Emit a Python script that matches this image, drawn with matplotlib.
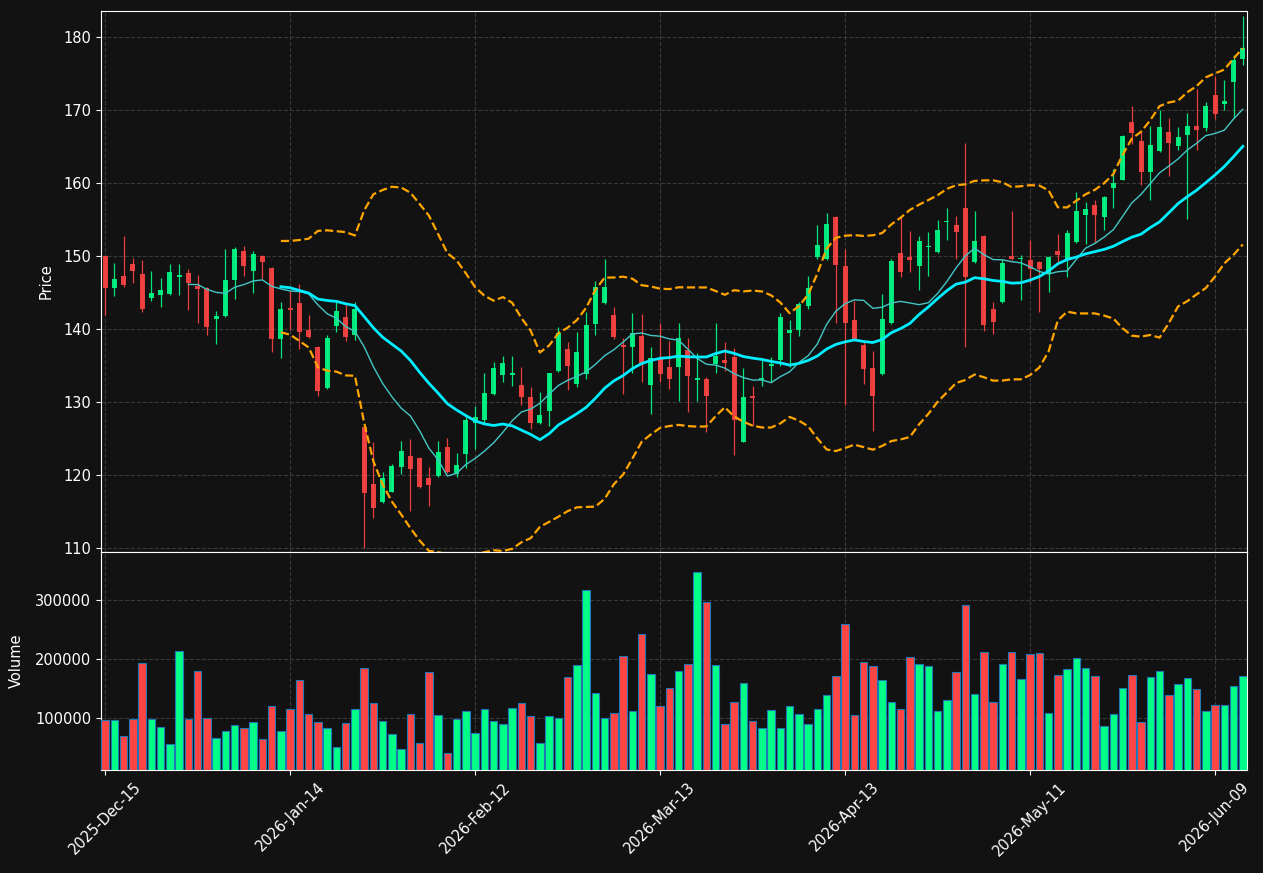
import numpy as np
import pandas as pd
import matplotlib
matplotlib.use("Agg")
import matplotlib.pyplot as plt
from matplotlib.ticker import MultipleLocator, FuncFormatter

# --- data ---
holidays = ["2025-12-25", "2026-01-01", "2026-01-19", "2026-02-16",
            "2026-04-03", "2026-05-25"]
dates = pd.bdate_range("2025-12-15", periods=124, freq="C", holidays=holidays)

opens = [149.95, 145.52, 147.29, 148.90, 147.52, 144.19, 144.67, 144.81, 147.05, 147.67,
         145.90, 145.62, 141.29, 141.71, 146.71, 150.71, 147.86, 149.95, 148.38, 138.57,
         142.90, 143.57, 139.86, 137.52, 131.86, 140.33, 141.67, 139.10, 126.57, 118.76,
         116.29, 117.71, 121.14, 122.62, 122.33, 119.62, 119.81, 123.81, 120.19, 122.86,
         127.10, 127.52, 131.10, 133.62, 133.71, 132.33, 130.71, 127.14, 128.81, 134.19,
         137.29, 132.48, 133.86, 140.71, 143.48, 141.90, 137.81, 137.57, 139.05, 132.24,
         135.86, 134.81, 134.76, 137.14, 132.95, 133.14, 135.24, 135.71, 136.19, 124.57,
         130.76, 132.95, 134.86, 135.76, 139.38, 139.81, 143.10, 149.86, 149.62, 155.24,
         148.57, 141.24, 137.81, 134.67, 133.76, 140.76, 150.38, 149.81, 148.57, 151.14,
         150.48, 154.57, 154.14, 156.57, 149.10, 152.76, 142.76, 143.62, 150.00, 149.52,
         149.38, 149.19, 147.48, 150.71, 149.52, 151.86, 155.52, 156.95, 155.29, 159.24,
         160.33, 168.24, 165.76, 161.43, 164.29, 166.90, 165.00, 166.48, 167.81, 167.43,
         171.95, 170.76, 173.76, 176.90]
highs = [150.00, 148.95, 152.71, 149.67, 149.43, 147.90, 146.95, 148.86, 148.86, 148.19,
         147.38, 145.70, 142.48, 150.86, 151.19, 151.33, 150.67, 150.10, 148.45, 143.71,
         145.24, 146.10, 141.86, 137.71, 139.14, 143.81, 143.24, 143.71, 126.60, 124.48,
         120.38, 121.43, 124.67, 124.95, 122.40, 121.05, 124.67, 125.05, 122.95, 128.00,
         129.40, 133.95, 135.48, 136.29, 136.29, 134.76, 132.05, 131.33, 133.95, 140.29,
         138.19, 139.57, 142.29, 146.57, 149.62, 143.00, 138.76, 142.14, 142.00, 137.52,
         140.86, 138.33, 140.76, 138.76, 136.67, 133.43, 140.76, 138.19, 137.43, 134.67,
         132.19, 135.81, 136.19, 142.14, 141.24, 143.71, 147.24, 154.19, 155.86, 155.40,
         150.86, 143.81, 138.29, 136.95, 144.76, 149.52, 155.33, 153.43, 152.76, 153.24,
         154.90, 156.52, 155.43, 165.48, 156.19, 152.80, 143.71, 149.62, 156.19, 150.10,
         152.19, 149.30, 149.90, 153.00, 153.52, 158.71, 157.38, 157.62, 158.15, 161.90,
         166.50, 170.52, 167.05, 167.76, 169.90, 168.86, 167.67, 169.57, 172.76, 171.05,
         174.67, 174.10, 177.52, 182.86]
lows = [141.90, 144.43, 145.76, 146.24, 142.29, 143.81, 142.95, 144.57, 144.57, 142.57,
        140.76, 139.14, 137.90, 141.60, 144.10, 147.19, 144.86, 146.76, 136.76, 136.00,
        139.90, 137.29, 138.70, 130.86, 131.80, 139.57, 138.29, 138.48, 110.00, 114.10,
        116.10, 117.60, 120.10, 115.05, 118.20, 115.71, 119.70, 120.30, 119.71, 120.95,
        123.50, 127.05, 131.00, 132.67, 132.14, 129.57, 126.29, 126.95, 126.67, 134.05,
        131.62, 132.00, 133.14, 139.10, 143.40, 138.67, 131.05, 133.95, 132.76, 128.38,
        132.76, 131.76, 130.10, 128.62, 130.10, 125.86, 133.95, 134.19, 122.76, 124.50,
        126.76, 132.14, 132.76, 134.90, 134.81, 138.95, 142.76, 149.52, 149.43, 140.86,
        129.52, 138.38, 132.38, 126.00, 133.70, 140.70, 147.10, 147.76, 145.33, 147.19,
        150.40, 152.10, 149.57, 137.52, 148.95, 139.67, 139.29, 143.60, 149.43, 143.95,
        146.33, 142.29, 145.05, 149.05, 147.05, 151.80, 151.57, 151.81, 153.52, 156.52,
        160.30, 165.24, 159.67, 157.62, 164.19, 160.95, 164.48, 155.05, 164.48, 167.05,
        168.67, 169.90, 168.81, 176.10]
closes = [145.52, 146.86, 145.95, 147.86, 142.67, 144.95, 145.33, 147.81, 147.43, 146.33,
          145.38, 140.29, 141.81, 146.71, 150.86, 148.62, 150.29, 149.19, 138.67, 142.76,
          142.52, 139.52, 138.81, 131.43, 138.76, 142.48, 138.90, 142.67, 117.52, 115.52,
          119.62, 121.24, 123.24, 120.86, 118.29, 118.67, 123.10, 120.38, 121.38, 127.52,
          127.90, 131.24, 134.67, 135.33, 133.95, 130.62, 127.14, 128.24, 133.95, 139.43,
          134.86, 136.86, 140.57, 145.76, 145.76, 138.86, 137.52, 139.43, 135.24, 136.05,
          133.81, 133.19, 138.76, 133.48, 133.24, 130.76, 136.33, 135.38, 127.52, 130.71,
          130.48, 133.29, 135.14, 141.67, 139.86, 143.43, 145.62, 151.52, 154.38, 148.67,
          140.86, 138.48, 134.43, 130.76, 141.38, 149.33, 147.71, 149.38, 152.05, 151.33,
          153.57, 154.71, 153.19, 147.05, 152.05, 140.48, 140.95, 149.05, 149.52, 149.71,
          148.19, 148.24, 149.81, 150.14, 153.10, 156.19, 156.43, 155.52, 158.10, 159.90,
          166.43, 166.76, 161.43, 165.10, 167.67, 165.38, 166.19, 167.81, 167.19, 170.43,
          169.43, 171.24, 176.81, 178.38]
volumes = [96045, 96045, 68927, 97740, 192655, 97740, 84181, 55367, 213559, 97740,
           179096, 99435, 65537, 77401, 87571, 82486, 92655, 64407, 119774, 77401,
           114689, 163842, 106215, 92655, 82486, 50282, 91525, 114689, 184746, 124859,
           94350, 72881, 47458, 106780, 57627, 177401, 105085, 40678, 98305, 111299,
           74576, 114689, 94350, 89831, 116384, 124859, 103390, 57627, 103390, 99435,
           169492, 189831, 316384, 142373, 99435, 108475, 205085, 111864, 242373, 174576,
           120339, 150847, 179096, 191525, 345763, 296610, 189831, 89831, 127119, 159322,
           94915, 82486, 113559, 82486, 120339, 106780, 89831, 115254, 138983, 171186,
           259322, 105085, 194915, 188136, 164407, 127119, 115254, 203390, 191525, 188136,
           111864, 130508, 177966, 291525, 140678, 211864, 127119, 191525, 211864, 166102,
           208475, 210169, 108475, 172881, 183051, 201695, 184746, 171186, 86441, 106780,
           150847, 172881, 93220, 169492, 179661, 138983, 157627, 167797, 149153, 111864,
           122034, 122034, 154237, 171186]

UP, DOWN = "#00ff88", "#ff4444"
BG = "#121212"

o = np.array(opens); h = np.array(highs); l = np.array(lows); c = np.array(closes)
v = np.array(volumes)
x = np.arange(len(c))
cols = [UP if cc >= oo else DOWN for oo, cc in zip(o, c)]

s = pd.Series(c)
ma10 = s.rolling(10).mean()
ma20 = s.rolling(20).mean()
sd20 = s.rolling(20).std(ddof=0)
bb_up = ma20 + 2 * sd20
bb_lo = ma20 - 2 * sd20

fig = plt.figure(figsize=(12.63, 8.73), dpi=100, facecolor=BG)
ax = fig.add_axes([0.0800, 0.3677, 0.9073, 0.6197])
axv = fig.add_axes([0.0800, 0.1180, 0.9073, 0.2497], sharex=ax)

for a in (ax, axv):
    a.set_facecolor(BG)
    a.grid(True, linestyle="--", color="#3a3a3a", linewidth=0.8)
    a.set_axisbelow(True)
    for sp in a.spines.values():
        sp.set_color("white")
    a.tick_params(colors="white", labelsize=10.5)

# candles
ax.vlines(x, l, h, colors=cols, linewidth=0.9, alpha=0.9, zorder=2)
ax.bar(x, np.abs(c - o), bottom=np.minimum(o, c), width=0.55,
       color=cols, alpha=0.9, linewidth=0, zorder=3)

# overlays
ax.plot(x, ma10, color="#45c6c6", linewidth=1.0, zorder=4)
ax.plot(x, ma20, color="#00eeff", linewidth=2.0, zorder=4)
ax.plot(x, bb_up, color="orange", linewidth=1.6, linestyle="--", zorder=4)
ax.plot(x, bb_lo, color="orange", linewidth=1.6, linestyle="--", zorder=4)

ax.set_ylim(109.45, 183.5)
ax.yaxis.set_major_locator(MultipleLocator(10))
ax.set_ylabel("Price", color="white", fontsize=10.5, labelpad=7)
ax.tick_params(axis="x", bottom=False, labelbottom=False)

# volume
axv.bar(x, v, width=0.82, color=cols, edgecolor="#1f77b4", linewidth=0.8, zorder=3)
axv.set_ylim(0.3 * v.min(), 1.1 * v.max())
axv.yaxis.set_major_locator(MultipleLocator(100000))
axv.yaxis.set_major_formatter(FuncFormatter(lambda val, pos: f"{int(val)}"))
axv.set_ylabel("Volume", color="white", fontsize=10.5, labelpad=8)

tick_pos = list(range(0, len(x), 20))
axv.set_xticks(tick_pos)
axv.set_xticklabels([dates[i].strftime("%Y-%b-%d") for i in tick_pos],
                    rotation=45, ha="center")
axv.set_xlim(-0.45, len(x) - 0.55)

fig.savefig("out.png", dpi=100, facecolor=BG)
